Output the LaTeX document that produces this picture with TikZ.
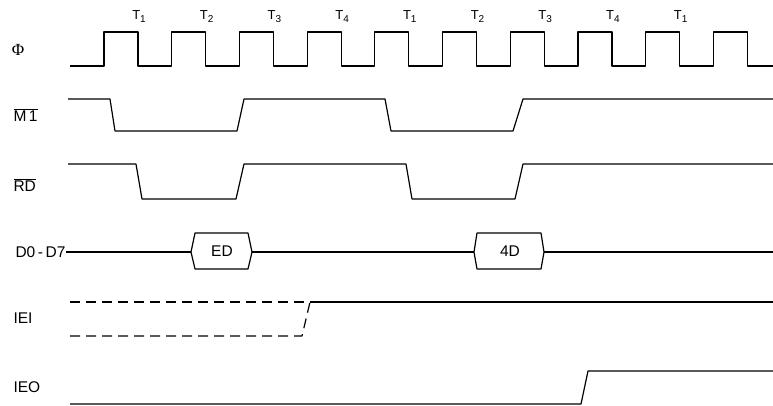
\documentclass[tikz,border=0pt]{standalone}
\usepackage{fontspec}
\setmainfont{Liberation Sans}
\newfontfamily\phifont{Liberation Serif}
\usetikzlibrary{positioning,calc}

\begin{document}
\begin{tikzpicture}[x=1pt, y=-1pt, line width=1pt, line join=round,
    every node/.style={font=\fontsize{15.5}{18}\selectfont, inner sep=1pt},
    sig/.style={line width=1.2pt},
    dsig/.style={line width=1.2pt, dash pattern=on 10pt off 6pt},
    lbl/.style={anchor=west}]
\useasboundingbox (0,0) rectangle (773,405);

% clock
\node (phi) at (18,50) {\phifont\fontsize{17}{18}\selectfont Φ};
\draw[sig] (70,66) foreach \k in {0,...,9} { -- ({104+67.7*\k},66) -- ++(0,-34) -- ++(34,0) -- ++(0,34) } -- (773,66);
\foreach \k/\t in {0/1,1/2,2/3,3/4,4/1,5/2,6/3,7/4,8/1} {
    \node[font=\fontsize{13}{15}\selectfont] (t\k) at ({139+67.7*\k},17) {T\raisebox{-3pt}{\fontsize{10}{10}\selectfont\t}};
}

% M1 and RD
\node[lbl] (m1lbl) at (12,115) {$\overline{\mbox{M\,1}}$};
\draw[sig] (68,99) -- (110,99) -- (115,131) -- (237,131) -- (244,99) -- (385,99) -- (391,131) -- (513,131) -- (523,99) -- (773,99);
\node[lbl] (rdlbl) at (12,185) {$\overline{\mbox{RD}}$};
\draw[sig] (68,164) -- (136,164) -- (142,199) -- (236,199) -- (244,164) -- (406,164) -- (412,199) -- (515,199) -- (523,164) -- (773,164);

% data bus
\node[anchor=east, inner sep=0pt] (dlbl) at (66,252) {D0\,-\,D7};
\node (ed) at (222,251) {ED};
\node (fourd) at (510,251) {4D};
\draw[sig] (dlbl.east) -- (191,252);
\draw[sig] (191,252) -- (195,233) -- (248,233) -- (252,252) -- (248,269) -- (195,269) -- cycle;
\draw[sig] (252,252) -- (474,252);
\draw[sig] (474,252) -- (477,233) -- (541,233) -- (544,252) -- (541,269) -- (477,269) -- cycle;
\draw[sig] (544,252) -- (773,252);

% IEI / IEO
\node[lbl] (ieilbl) at (12,318) {IEI};
\draw[dsig] (70,302) -- (304,302);
\draw[dsig] (70,336) -- (302,336) -- (310,302);
\draw[sig] (310,302) -- (773,302);
\node[lbl] (ieolbl) at (12,387) {IEO};
\draw[sig] (70,404) -- (581,404) -- (588,371) -- (773,371);
\end{tikzpicture}
\end{document}
